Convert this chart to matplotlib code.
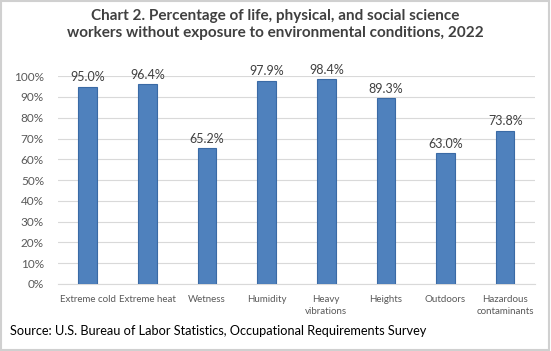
import matplotlib.pyplot as plt
from matplotlib.patches import Rectangle

categories = ['Extreme cold', 'Extreme heat', 'Wetness', 'Humidity',
              'Heavy\nvibrations', 'Heights', 'Outdoors', 'Hazardous\ncontaminants']
values = [95.0, 96.4, 65.2, 97.9, 98.4, 89.3, 63.0, 73.8]
yticks = [0, 10, 20, 30, 40, 50, 60, 70, 80, 90, 100]

plt.rcParams['font.family'] = ['Lato', 'DejaVu Sans']

fig = plt.figure(figsize=(5.51, 3.51), dpi=100)
ax = fig.add_axes([0.105, 0.191, 0.866, 0.592])

x = range(len(categories))
ax.bar(x, values, width=0.31, color='#4F81BD', edgecolor='#3A6AA5', linewidth=0.8, zorder=3)
for xi, v in zip(x, values):
    ax.text(xi, v + 1.5, f'{v:.1f}%', ha='center', va='bottom', fontsize=9, color='#404040')

ax.set_xlim(-0.5, len(categories) - 0.5)
ax.set_ylim(0, 100)
ax.set_yticks(yticks)
ax.set_yticklabels([f'{t}%' for t in yticks], fontsize=8.5, color='#595959')
ax.set_xticks(list(x))
ax.set_xticklabels(categories, fontsize=7, color='#595959', linespacing=1.4)
ax.tick_params(length=0, pad=8)
ax.tick_params(axis='y', pad=10)
ax.yaxis.grid(True, color='#D9D9D9', linewidth=0.8, zorder=0)
for s in ['top', 'right', 'left']:
    ax.spines[s].set_visible(False)
ax.spines['bottom'].set_color('#D9D9D9')

fig.text(0.5, 0.93, 'Chart 2. Percentage of life, physical, and social science\n'
         'workers without exposure to environmental conditions, 2022',
         ha='center', va='center', fontsize=11, fontweight='bold', color='#404040',
         linespacing=1.35)
fig.text(0.018, 0.058, 'Source: U.S. Bureau of Labor Statistics, Occupational Requirements Survey',
         ha='left', va='center', fontsize=9.2, color='black')

fig.patches.append(Rectangle((0.002, 0.003), 0.995, 0.993, transform=fig.transFigure,
                             fill=False, edgecolor='#D0D0D0', linewidth=1.5))

fig.savefig('out.png', dpi=100)
